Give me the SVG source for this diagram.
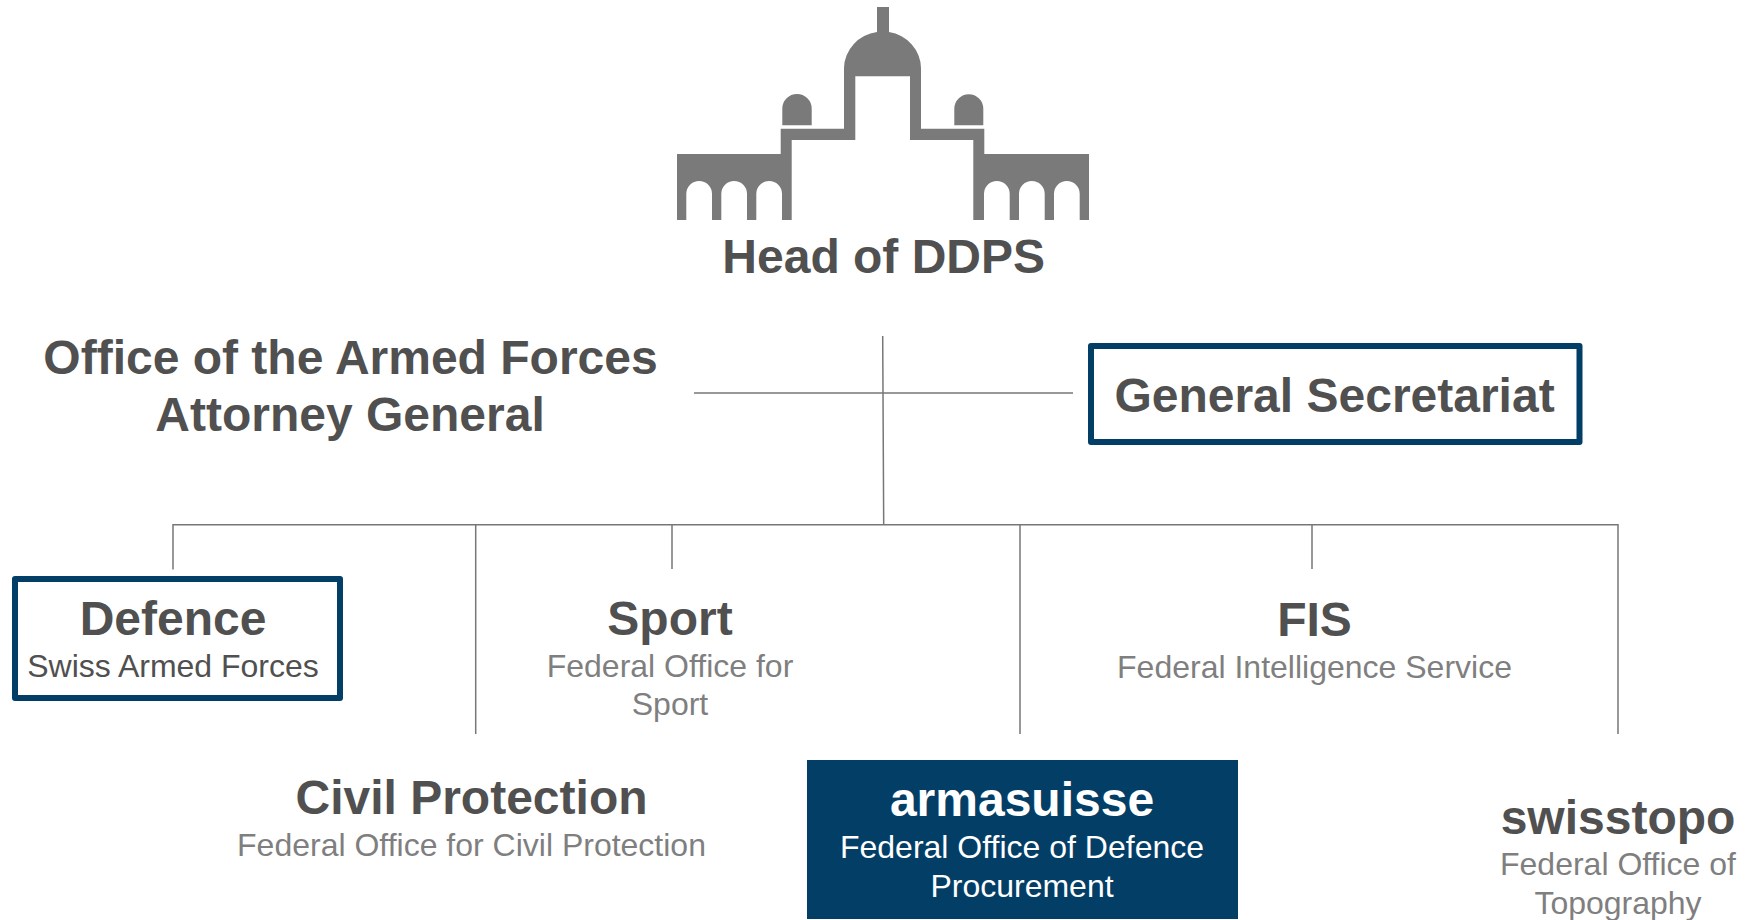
<svg xmlns="http://www.w3.org/2000/svg" width="1759" height="920" viewBox="0 0 1759 920">
<style>
text{font-family:"Liberation Sans",Arial,sans-serif;text-anchor:middle}
.t{font-weight:700;font-size:48px;fill:#505050}
.s{font-size:32px;fill:#7f7f7f}
.d{fill:#505050}
.w{fill:#fff}
.c{fill:none;stroke:#777;stroke-width:1.500}
.b{fill:#fff;stroke:#033e66;stroke-width:6;stroke-linejoin:round}
</style>
<rect width="1759" height="920" fill="#fff"/>
<g id="connectors">
<path class="c" d="M882.700 336L883.700 525M694 393H1073M173 569.500V524.700H1618V734M475.700 525V734M672 525V569M1020 525V734M1312 525V569"/>
</g>
<g id="head">
<path fill="#7a7a7a" fill-rule="evenodd" d="M877 7H889V32A38.500 37 0 0 1 921 68V128.700H984.300V154H1089V220H1079.700V193.800A12.800 12.800 0 0 0 1054 193.800V220H1044.700V193.800A12.800 12.800 0 0 0 1019 193.800V220H1009.700V193.800A12.800 12.800 0 0 0 984 193.800V220H973.300V140H910V76.300H855.300V140H791.700V220H782V193.800A12.800 12.800 0 0 0 756.300 193.800V220H747V193.800A12.800 12.800 0 0 0 721.300 193.800V220H712V193.800A12.800 12.800 0 0 0 686.300 193.800V220H677V154H780.700V128.700H844V68A38.500 37 0 0 1 877 32Z"/>
<path fill="#7a7a7a" d="M782.300 125.300V108.700A14.700 14.700 0 0 1 811.700 108.700V125.300ZM954.300 125.300V108.700A14.500 14.500 0 0 1 983.300 108.700V125.300Z"/>
<text class="t" x="883.700" y="273">Head of DDPS</text>
</g>
<g id="oafag">
<text class="t" x="350.500" y="374">Office of the Armed Forces</text>
<text class="t" x="350" y="431">Attorney General</text>
</g>
<g id="general-secretariat">
<rect class="b" x="1091" y="346" width="488.500" height="96"/>
<text class="t" x="1334.500" y="412">General Secretariat</text>
</g>
<g id="defence">
<rect class="b" x="15" y="579" width="325" height="119"/>
<text class="t" x="173" y="635">Defence</text>
<text class="s" style="fill:#505050" x="173" y="677">Swiss Armed Forces</text>
</g>
<g id="sport">
<text class="t" x="670" y="635">Sport</text>
<text class="s" x="670" y="677">Federal Office for</text>
<text class="s" x="670" y="715">Sport</text>
</g>
<g id="fis">
<text class="t" x="1314.500" y="635.500">FIS</text>
<text class="s" x="1314.500" y="678">Federal Intelligence Service</text>
</g>
<g id="civil-protection">
<text class="t" x="471.500" y="814">Civil Protection</text>
<text class="s" x="471.500" y="856">Federal Office for Civil Protection</text>
</g>
<g id="armasuisse">
<rect x="807" y="760" width="431" height="159" fill="#033e66"/>
<text class="t w" x="1022" y="816">armasuisse</text>
<text class="s w" x="1022" y="858">Federal Office of Defence</text>
<text class="s w" x="1022" y="897">Procurement</text>
</g>
<g id="swisstopo">
<text class="t" x="1618" y="834">swisstopo</text>
<text class="s" x="1618" y="875">Federal Office of</text>
<text class="s" x="1618" y="914">Topography</text>
</g>
</svg>
